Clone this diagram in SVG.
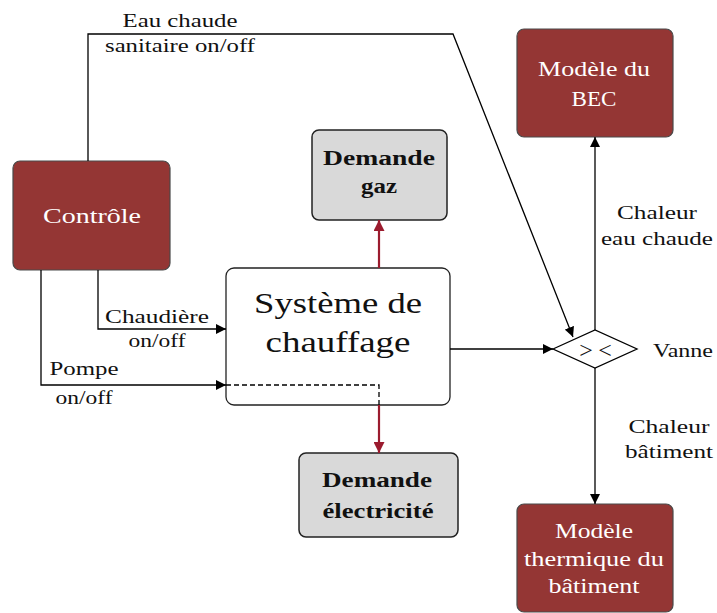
<svg xmlns="http://www.w3.org/2000/svg" width="717" height="613" viewBox="0 0 717 613">
  <style>
    text { font-family: "Liberation Serif", "DejaVu Serif", "Times New Roman", serif; fill: #111; }
    .lbl { font-size: 19px; }
    .red rect { fill: #943634; stroke: #4a4a4a; stroke-width: 1.2; }
    .red text { fill: #fff; font-size: 20px; text-anchor: middle; }
    .grey rect { fill: #d9d9d9; stroke: #222; stroke-width: 1.5; }
    .grey text { font-size: 20px; font-weight: bold; text-anchor: middle; }
    .wire { fill: none; stroke: #000; stroke-width: 1.3; }
    .feed { fill: none; stroke: #9b1b2e; stroke-width: 2.2; }
    .chev { font-size: 24px; text-anchor: middle; }
  </style>
  <defs>
    <marker id="ah" viewBox="0 0 10 10" refX="10" refY="5" markerWidth="10" markerHeight="10" markerUnits="userSpaceOnUse" orient="auto">
      <path d="M0,0 L10,5 L0,10 Z" fill="#000"/>
    </marker>
    <marker id="ahr" viewBox="0 0 10 10" refX="10" refY="5" markerWidth="11" markerHeight="11" markerUnits="userSpaceOnUse" orient="auto">
      <path d="M0,0 L10,5 L0,10 Z" fill="#9b1b2e"/>
    </marker>
  </defs>

  <!-- nodes -->
  <g id="controle" class="red">
    <rect x="13" y="161" width="157" height="109" rx="7"/>
    <text x="92" y="223" textLength="98" lengthAdjust="spacingAndGlyphs">Contrôle</text>
  </g>

  <g id="bec" class="red">
    <rect x="517" y="29" width="156" height="108" rx="7"/>
    <text x="594" y="76" textLength="112" lengthAdjust="spacingAndGlyphs">Modèle du</text>
    <text x="594" y="106" textLength="45" lengthAdjust="spacingAndGlyphs">BEC</text>
  </g>

  <g id="thermique" class="red">
    <rect x="517" y="504" width="156" height="108" rx="7"/>
    <text x="594" y="538" textLength="78" lengthAdjust="spacingAndGlyphs">Modèle</text>
    <text x="594" y="566" textLength="140" lengthAdjust="spacingAndGlyphs">thermique du</text>
    <text x="594" y="593" textLength="91" lengthAdjust="spacingAndGlyphs">bâtiment</text>
  </g>

  <g id="gaz" class="grey">
    <rect x="312" y="130" width="135" height="90" rx="7"/>
    <text x="379" y="165" textLength="112" lengthAdjust="spacingAndGlyphs">Demande</text>
    <text x="379" y="193" textLength="36" lengthAdjust="spacingAndGlyphs">gaz</text>
  </g>

  <g id="electricite" class="grey">
    <rect x="299" y="453" width="159" height="84" rx="7"/>
    <text x="377" y="487" textLength="110" lengthAdjust="spacingAndGlyphs">Demande</text>
    <text x="378" y="518" textLength="111" lengthAdjust="spacingAndGlyphs">électricité</text>
  </g>

  <g id="chauffage">
    <rect x="226" y="268" width="224" height="137" rx="8" fill="#fff" stroke="#222" stroke-width="1.3"/>
    <text x="338" y="313" font-size="30" text-anchor="middle" textLength="168" lengthAdjust="spacingAndGlyphs">Système de</text>
    <text x="338" y="352" font-size="30" text-anchor="middle" textLength="145" lengthAdjust="spacingAndGlyphs">chauffage</text>
  </g>

  <g id="vanne">
    <path d="M553,349 L595,330 L637,349 L595,368 Z" fill="#fff" stroke="#000" stroke-width="1.3"/>
    <text class="chev" x="586" y="358">&gt;</text>
    <text class="chev" x="605" y="358">&lt;</text>
    <text class="lbl" x="653" y="357" textLength="60" lengthAdjust="spacingAndGlyphs">Vanne</text>
  </g>

  <!-- connectors, drawn last so the dashed pump path shows over the boiler box -->
  <g id="connectors">
    <path class="wire" d="M88,161 V34 H453 L573,337" marker-end="url(#ah)"/>
    <path class="wire" d="M98,270 V329 H226" marker-end="url(#ah)"/>
    <path class="wire" d="M41,270 V385 H226" marker-end="url(#ah)"/>
    <path class="wire" d="M226,385 H379 V405" stroke-dasharray="5,3"/>
    <path class="wire" d="M450,349 H553" marker-end="url(#ah)"/>
    <path class="wire" d="M595,330 V137" marker-end="url(#ah)"/>
    <path class="wire" d="M595,368 V504" marker-end="url(#ah)"/>
    <path class="feed" d="M379,268 V220" marker-end="url(#ahr)"/>
    <path class="feed" d="M379,405 V453" marker-end="url(#ahr)"/>

    <text class="lbl" x="180" y="27" text-anchor="middle" textLength="115" lengthAdjust="spacingAndGlyphs">Eau chaude</text>
    <text class="lbl" x="180" y="52" text-anchor="middle" textLength="150" lengthAdjust="spacingAndGlyphs">sanitaire on/off</text>
    <text class="lbl" x="157" y="323" text-anchor="middle" textLength="104" lengthAdjust="spacingAndGlyphs">Chaudière</text>
    <text class="lbl" x="157" y="347" text-anchor="middle" textLength="57" lengthAdjust="spacingAndGlyphs">on/off</text>
    <text class="lbl" x="84" y="375" text-anchor="middle" textLength="69" lengthAdjust="spacingAndGlyphs">Pompe</text>
    <text class="lbl" x="84" y="404" text-anchor="middle" textLength="57" lengthAdjust="spacingAndGlyphs">on/off</text>
    <text class="lbl" x="657" y="219" text-anchor="middle" textLength="80" lengthAdjust="spacingAndGlyphs">Chaleur</text>
    <text class="lbl" x="657" y="245" text-anchor="middle" textLength="112" lengthAdjust="spacingAndGlyphs">eau chaude</text>
    <text class="lbl" x="669" y="433" text-anchor="middle" textLength="81" lengthAdjust="spacingAndGlyphs">Chaleur</text>
    <text class="lbl" x="669" y="458" text-anchor="middle" textLength="88" lengthAdjust="spacingAndGlyphs">bâtiment</text>
  </g>
</svg>
